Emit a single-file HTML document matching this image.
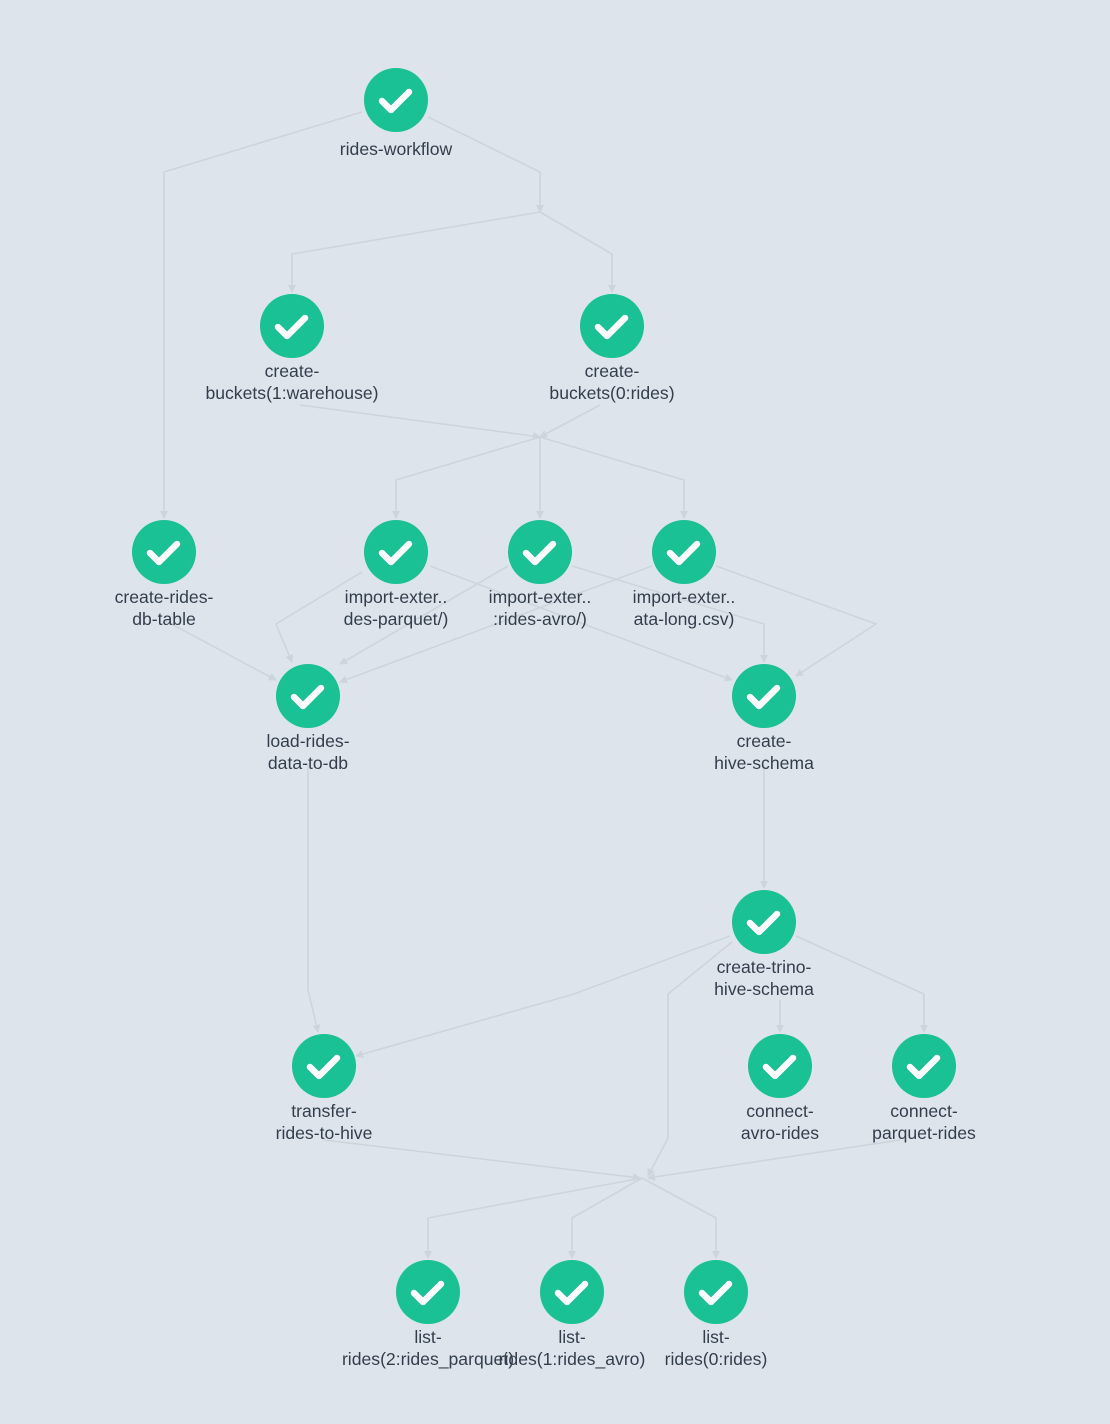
<!DOCTYPE html>
<html><head><meta charset="utf-8"><style>
html,body{margin:0;padding:0;background:#dee4eb;}
svg{display:block}
text{font-family:"Liberation Sans",sans-serif;font-size:17.6px;fill:#333e4c;text-anchor:middle}
</style></head><body>
<svg width="1110" height="1424" viewBox="0 0 1110 1424" xmlns="http://www.w3.org/2000/svg">
<defs>
<marker id="a" markerWidth="8" markerHeight="8" refX="7" refY="4" orient="auto" markerUnits="userSpaceOnUse">
<path d="M0,0 L8,4 L0,8 z" fill="#cdd5dc"/></marker>
<g id="n"><circle r="32" fill="#19c194"/><path d="M-14,1 L-5,10 L13,-8" fill="none" stroke="#fff" stroke-width="6.5" stroke-linecap="round" stroke-linejoin="round"/></g>
</defs>
<g fill="none" stroke="#cdd5dc" stroke-width="1.6">
<polyline points="362,112 164,172 164,518" marker-end="url(#a)"/>
<polyline points="428,117 540,172 540,212" marker-end="url(#a)"/>
<polyline points="540,212 292,254 292,292" marker-end="url(#a)"/>
<polyline points="540,212 612,254 612,292" marker-end="url(#a)"/>
<polyline points="300,405 540,437" marker-end="url(#a)"/>
<polyline points="600,405 540,437" marker-end="url(#a)"/>
<polyline points="540,437 396,480 396,518" marker-end="url(#a)"/>
<polyline points="540,437 540,518" marker-end="url(#a)"/>
<polyline points="540,437 684,480 684,518" marker-end="url(#a)"/>
<polyline points="164,620 276,680" marker-end="url(#a)"/>
<polyline points="362,572 276,624 292,662" marker-end="url(#a)"/>
<polyline points="430,566 732,680" marker-end="url(#a)"/>
<polyline points="508,566 340,664" marker-end="url(#a)"/>
<polyline points="572,566 764,624 764,662" marker-end="url(#a)"/>
<polyline points="652,566 340,682" marker-end="url(#a)"/>
<polyline points="716,566 876,624 796,676" marker-end="url(#a)"/>
<polyline points="308,765 308,990 318,1032" marker-end="url(#a)"/>
<polyline points="764,765 764,808 764,888" marker-end="url(#a)"/>
<polyline points="730,936 574,994 356,1056" marker-end="url(#a)"/>
<polyline points="732,942 668,994 668,1138 648,1176" marker-end="url(#a)"/>
<polyline points="780,1000 780,1032" marker-end="url(#a)"/>
<polyline points="796,936 924,994 924,1032" marker-end="url(#a)"/>
<polyline points="324,1140 640,1178" marker-end="url(#a)"/>
<polyline points="900,1140 648,1178" marker-end="url(#a)"/>
<polyline points="642,1178 428,1218 428,1258" marker-end="url(#a)"/>
<polyline points="642,1178 572,1218 572,1258" marker-end="url(#a)"/>
<polyline points="642,1178 716,1218 716,1258" marker-end="url(#a)"/>
</g>
<use href="#n" x="396" y="100"/>
<use href="#n" x="292" y="326"/>
<use href="#n" x="612" y="326"/>
<use href="#n" x="164" y="552"/>
<use href="#n" x="396" y="552"/>
<use href="#n" x="540" y="552"/>
<use href="#n" x="684" y="552"/>
<use href="#n" x="308" y="696"/>
<use href="#n" x="764" y="696"/>
<use href="#n" x="764" y="922"/>
<use href="#n" x="324" y="1066"/>
<use href="#n" x="780" y="1066"/>
<use href="#n" x="924" y="1066"/>
<use href="#n" x="428" y="1292"/>
<use href="#n" x="572" y="1292"/>
<use href="#n" x="716" y="1292"/>
<text x="396" y="155">rides-workflow</text>
<text x="292" y="377">create-</text><text x="292" y="399">buckets(1:warehouse)</text>
<text x="612" y="377">create-</text><text x="612" y="399">buckets(0:rides)</text>
<text x="164" y="603">create-rides-</text><text x="164" y="625">db-table</text>
<text x="396" y="603">import-exter..</text><text x="396" y="625">des-parquet/)</text>
<text x="540" y="603">import-exter..</text><text x="540" y="625">:rides-avro/)</text>
<text x="684" y="603">import-exter..</text><text x="684" y="625">ata-long.csv)</text>
<text x="308" y="747">load-rides-</text><text x="308" y="769">data-to-db</text>
<text x="764" y="747">create-</text><text x="764" y="769">hive-schema</text>
<text x="764" y="973">create-trino-</text><text x="764" y="995">hive-schema</text>
<text x="324" y="1117">transfer-</text><text x="324" y="1139">rides-to-hive</text>
<text x="780" y="1117">connect-</text><text x="780" y="1139">avro-rides</text>
<text x="924" y="1117">connect-</text><text x="924" y="1139">parquet-rides</text>
<text x="428" y="1343">list-</text><text x="428" y="1365">rides(2:rides_parquet)</text>
<text x="572" y="1343">list-</text><text x="572" y="1365">rides(1:rides_avro)</text>
<text x="716" y="1343">list-</text><text x="716" y="1365">rides(0:rides)</text>
</svg>
</body></html>
